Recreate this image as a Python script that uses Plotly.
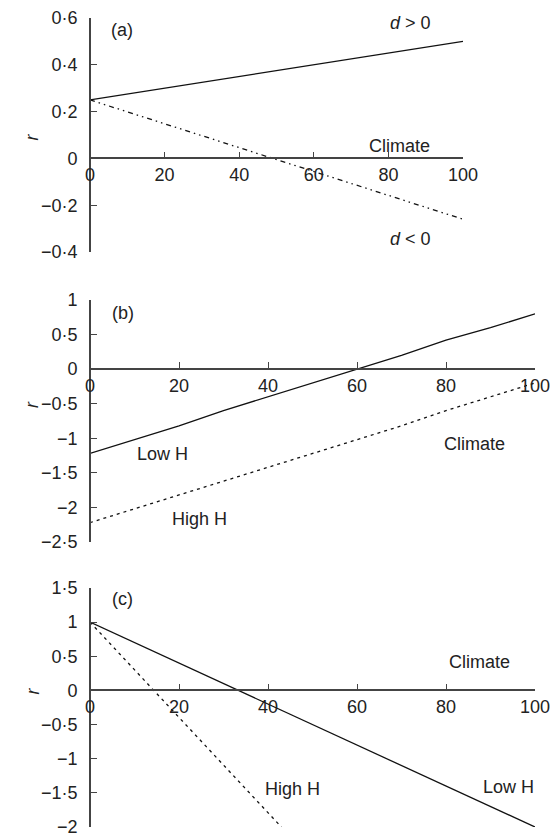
import plotly.graph_objects as go

# ---------------- data ----------------
x_a = [0, 100]
a_pos = [0.25, 0.50]          # d > 0
a_neg = [0.25, -0.26]         # d < 0

x_b = [0, 10, 20, 30, 40, 50, 60, 70, 80, 90, 100]
b_low = [-1.22, -1.02, -0.82, -0.60, -0.40, -0.20, 0.00, 0.20, 0.42, 0.60, 0.80]
b_high = [-2.22, -2.02, -1.82, -1.62, -1.42, -1.22, -1.02, -0.82, -0.60, -0.40, -0.20]

x_c_low = [0, 100]
c_low = [1.0, -2.0]
x_c_high = [0, 10, 20, 30, 43]
c_high = [1.0, 0.30, -0.40, -1.10, -2.0]

x_ticks = [0, 20, 40, 60, 80, 100]
x_ticklabels = ["0", "20", "40", "60", "80", "100"]
ya_ticks = [0.6, 0.4, 0.2, 0, -0.2, -0.4]
ya_labels = ["0·6", "0·4", "0·2", "0", "−0·2", "−0·4"]
yb_ticks = [1, 0.5, 0, -0.5, -1, -1.5, -2, -2.5]
yb_labels = ["1", "0·5", "0", "−0·5", "−1", "−1·5", "−2", "−2·5"]
yc_ticks = [1.5, 1, 0.5, 0, -0.5, -1, -1.5, -2]
yc_labels = ["1·5", "1", "0·5", "0", "−0·5", "−1", "−1·5", "−2"]

W, H = 550, 838
FONT = "Liberation Sans, Arial, sans-serif"
TXT = "#222222"
AX = "#444444"
FS = 18

# panel geometry in pixels: (left, right, top, bottom), y range
panels = [
    dict(px=(90, 463, 18, 252), yr=(-0.4, 0.6), yt=ya_ticks, yl=ya_labels),
    dict(px=(90, 535, 300, 542), yr=(-2.5, 1.0), yt=yb_ticks, yl=yb_labels),
    dict(px=(90, 535, 588, 827), yr=(-2.0, 1.5), yt=yc_ticks, yl=yc_labels),
]

fig = go.Figure()

line_solid = dict(color="#111111", width=1.3)
dash_a = dict(color="#111111", width=1.3, dash="5px,4px,1.5px,4px,1.5px,4px")
dash_bc = dict(color="#111111", width=1.3, dash="3px,4px")

fig.add_trace(go.Scatter(x=x_a, y=a_pos, mode="lines", line=line_solid, xaxis="x", yaxis="y"))
fig.add_trace(go.Scatter(x=x_a, y=a_neg, mode="lines", line=dash_a, xaxis="x", yaxis="y"))
fig.add_trace(go.Scatter(x=x_b, y=b_low, mode="lines", line=line_solid, xaxis="x2", yaxis="y2"))
fig.add_trace(go.Scatter(x=x_b, y=b_high, mode="lines", line=dash_bc, xaxis="x2", yaxis="y2"))
fig.add_trace(go.Scatter(x=x_c_low, y=c_low, mode="lines", line=line_solid, xaxis="x3", yaxis="y3"))
fig.add_trace(go.Scatter(x=x_c_high, y=c_high, mode="lines", line=dash_bc, xaxis="x3", yaxis="y3"))

layout = dict(
    width=W, height=H,
    margin=dict(l=0, r=0, t=0, b=0, pad=0),
    paper_bgcolor="white", plot_bgcolor="white",
    showlegend=False,
    font=dict(family=FONT, size=FS, color=TXT),
)

for i, p in enumerate(panels):
    l, r, t, b = p["px"]
    ymin, ymax = p["yr"]
    xd = [l / W, r / W]
    yd = [1 - b / H, 1 - t / H]
    zero_pos = yd[0] + (0 - ymin) / (ymax - ymin) * (yd[1] - yd[0])
    sfx = "" if i == 0 else str(i + 1)
    layout["xaxis" + sfx] = dict(
        domain=xd, range=[0, 100], anchor="free", position=zero_pos,
        tickvals=x_ticks, ticktext=x_ticklabels,
        ticks="inside", ticklen=6, tickwidth=1.2, tickcolor=AX,
        showline=True, linecolor=AX, linewidth=1.6,
        showgrid=False, zeroline=False, fixedrange=True, automargin=False,
        ticklabeloverflow="allow",
        tickfont=dict(family=FONT, size=FS, color=TXT),
    )
    layout["yaxis" + sfx] = dict(
        domain=yd, range=[ymin, ymax], anchor="free", position=xd[0],
        tickvals=p["yt"], ticktext=p["yl"],
        ticks="inside", ticklen=6, tickwidth=1.2, tickcolor=AX,
        showline=True, linecolor=AX, linewidth=1.6,
        showgrid=False, zeroline=False, fixedrange=True, automargin=False,
        ticklabeloverflow="allow",
        ticklabelstandoff=8,
        tickfont=dict(family=FONT, size=FS, color=TXT),
    )

fig.update_layout(**layout)

def ann(text, x, y, xref, yref, angle=0):
    fig.add_annotation(text=text, x=x, y=y, xref=xref, yref=yref, showarrow=False,
                       textangle=angle, font=dict(family=FONT, size=FS, color=TXT))

# panel (a)
ann("(a)", 8.6, 0.55, "x", "y")
ann("<i>d</i> &gt; 0", 86, 0.58, "x", "y")
ann("Climate", 83, 0.055, "x", "y")
ann("<i>d</i> &lt; 0", 86, -0.343, "x", "y")
# panel (b)
ann("(b)", 7.4, 0.81, "x2", "y2")
ann("Low H", 16.2, -1.23, "x2", "y2")
ann("High H", 24.5, -2.17, "x2", "y2")
ann("Climate", 86.5, -1.085, "x2", "y2")
# panel (c)
ann("(c)", 7.4, 1.335, "x3", "y3")
ann("Climate", 87.6, 0.42, "x3", "y3")
ann("High H", 45.6, -1.45, "x3", "y3")
ann("Low H", 94, -1.42, "x3", "y3")

# y-axis titles "r"
for ypx in (132, 405, 697):
    ann("<i>r</i>", 20 / W, 1 - ypx / H, "paper", "paper", angle=-90)

fig.write_html("out.html", config={"displayModeBar": False},
               post_script="document.body.style.margin='0';document.body.style.overflow='hidden';")
